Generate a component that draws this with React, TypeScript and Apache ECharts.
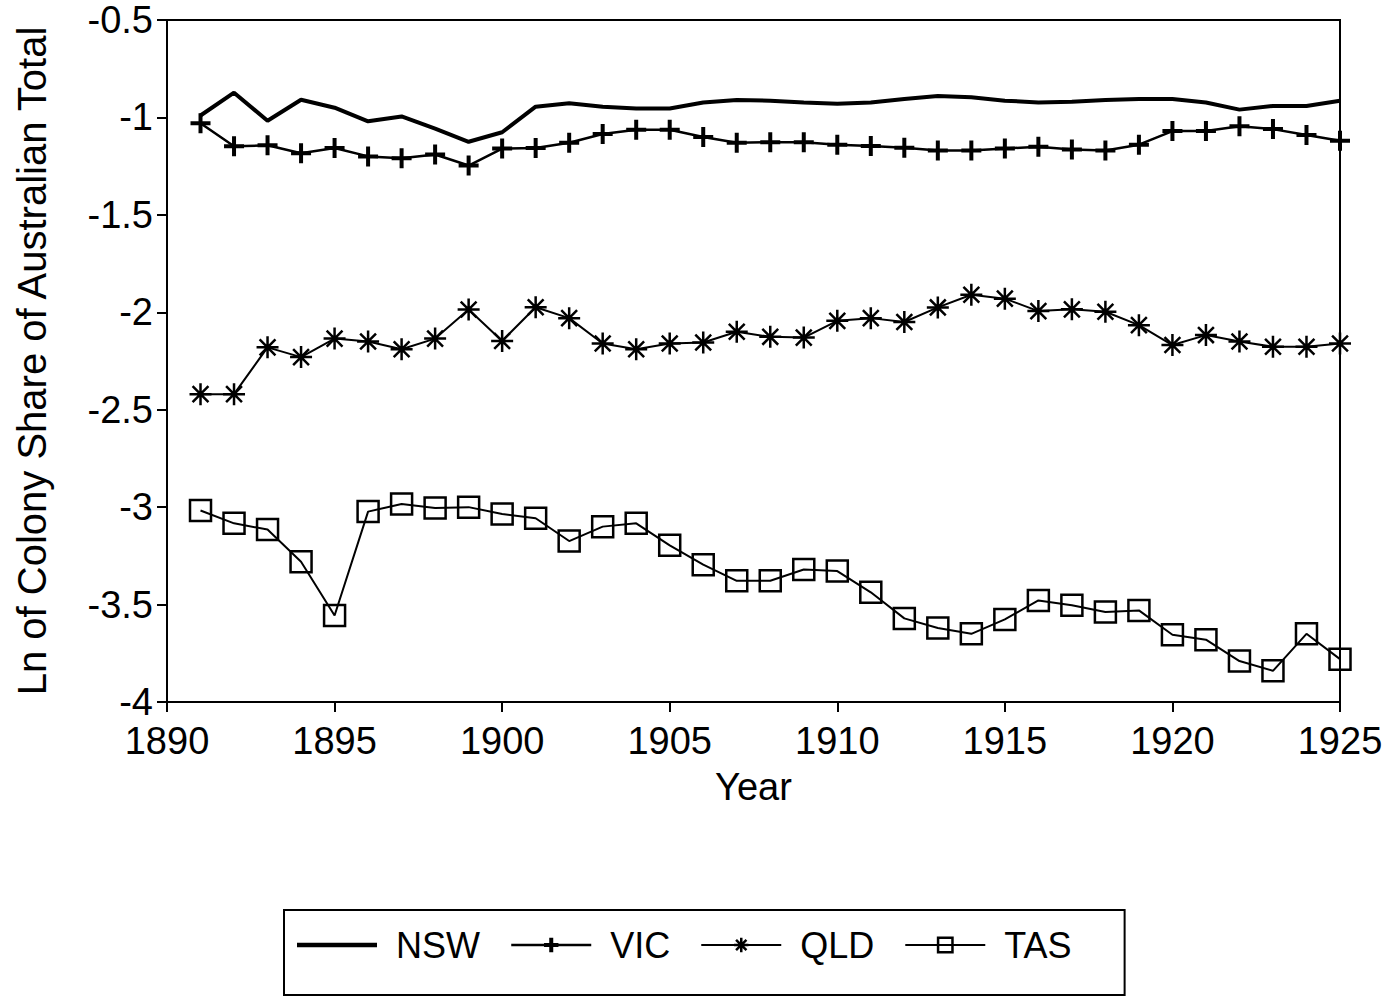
import React, { useEffect, useRef } from "react";
import * as echarts from "echarts";

const years = [
  1891, 1892, 1893, 1894, 1895, 1896, 1897, 1898, 1899, 1900,
  1901, 1902, 1903, 1904, 1905, 1906, 1907, 1908, 1909, 1910,
  1911, 1912, 1913, 1914, 1915, 1916, 1917, 1918, 1919, 1920,
  1921, 1922, 1923, 1924, 1925,
];

const nsw = [
  -0.99, -0.873, -1.017, -0.909, -0.95, -1.02, -0.995, -1.058, -1.125, -1.076,
  -0.945, -0.927, -0.945, -0.954, -0.954, -0.923, -0.91, -0.914, -0.923, -0.93,
  -0.923, -0.905, -0.89, -0.896, -0.914, -0.923, -0.92, -0.91, -0.905, -0.905,
  -0.923, -0.96, -0.941, -0.941, -0.914,
];

const vic = [
  -1.03, -1.148, -1.143, -1.184, -1.157, -1.2, -1.21, -1.19, -1.247, -1.16,
  -1.157, -1.13, -1.085, -1.063, -1.063, -1.1, -1.13, -1.127, -1.127, -1.14,
  -1.147, -1.155, -1.17, -1.17, -1.16, -1.15, -1.165, -1.17, -1.14, -1.07,
  -1.07, -1.045, -1.06, -1.09, -1.12,
];

const qld = [
  -2.42, -2.42, -2.18, -2.23, -2.135, -2.15, -2.19, -2.135, -1.986, -2.147,
  -1.974, -2.03, -2.16, -2.19, -2.16, -2.155, -2.1, -2.126, -2.13, -2.044,
  -2.03, -2.05, -1.975, -1.91, -1.93, -1.994, -1.985, -1.997, -2.066, -2.168,
  -2.117, -2.15, -2.177, -2.177, -2.16,
];

const tas = [
  -3.017, -3.083, -3.115, -3.28, -3.556, -3.023, -2.984, -3.005, -3.0, -3.035,
  -3.057, -3.174, -3.1, -3.083, -3.196, -3.295, -3.378, -3.378, -3.32, -3.328,
  -3.437, -3.571, -3.62, -3.65, -3.576, -3.479, -3.504, -3.538, -3.53, -3.655,
  -3.68, -3.79, -3.84, -3.65, -3.78,
];

const seriesNames = ["NSW", "VIC", "QLD", "TAS"];
const yAxisTitle = "Ln of Colony Share of Australian Total";
const xAxisTitle = "Year";

const FONT = "'Liberation Sans', Arial, Helvetica, sans-serif";

const PLUS = "path://M0,-1 L0,1 M-1,0 L1,0";
const STAR = "path://M0,-1 L0,1 M-1,0 L1,0 M-0.72,-0.72 L0.72,0.72 M-0.72,0.72 L0.72,-0.72";
const THICK_LINE_ICON = "path://M0,0 L80,0 L80,4.5 L0,4.5 Z";

function pairs(vals: number[]) {
  return years.map((y, i) => [y, vals[i]]);
}

export default function App() {
  const ref = useRef<HTMLDivElement>(null);

  useEffect(() => {
    document.body.style.margin = "0";
    if (!ref.current) return;
    const chart = echarts.init(ref.current, null, { renderer: "svg" });
    chart.setOption({
      animation: false,
      backgroundColor: "#fff",
      textStyle: { fontFamily: FONT, color: "#000" },
      grid: {
        left: 167,
        right: 49,
        top: 20,
        bottom: 296,
        show: true,
        borderColor: "#000",
        borderWidth: 2,
      },
      legend: {
        left: 284,
        top: 910,
        orient: "horizontal",
        data: [
          { name: seriesNames[0], icon: THICK_LINE_ICON },
          seriesNames[1],
          seriesNames[2],
          seriesNames[3],
        ],
        borderColor: "#000",
        borderWidth: 2,
        borderRadius: 0,
        padding: [17, 53, 32, 13],
        itemGap: 30,
        itemWidth: 80,
        itemHeight: 18,
        lineStyle: { width: "inherit" },
        itemStyle: { borderWidth: "inherit" },
        textStyle: {
          fontFamily: FONT,
          fontSize: 36,
          color: "#000",
          padding: [0, 0, 0, 14],
        },
      },
      xAxis: {
        type: "value",
        min: 1890,
        max: 1925,
        interval: 5,
        name: xAxisTitle,
        nameLocation: "middle",
        nameGap: 66,
        nameTextStyle: { fontFamily: FONT, fontSize: 38, color: "#000" },
        axisLine: { show: true, onZero: false, lineStyle: { color: "#000", width: 2 } },
        axisTick: { show: true, length: 10, lineStyle: { color: "#000", width: 2 } },
        axisLabel: {
          fontFamily: FONT,
          fontSize: 38,
          color: "#000",
          margin: 20,
          formatter: (v: number) => String(v),
        },
        splitLine: { show: false },
      },
      yAxis: {
        type: "value",
        min: -4,
        max: -0.5,
        interval: 0.5,
        name: yAxisTitle,
        nameLocation: "middle",
        nameGap: 115,
        nameTextStyle: { fontFamily: FONT, fontSize: 40, color: "#000" },
        axisLine: { show: true, onZero: false, lineStyle: { color: "#000", width: 2 } },
        axisTick: { show: true, length: 10, lineStyle: { color: "#000", width: 2 } },
        axisLabel: { fontFamily: FONT, fontSize: 38, color: "#000", margin: 14 },
        splitLine: { show: false },
      },
      series: [
        {
          name: "NSW",
          type: "line",
          data: pairs(nsw),
          symbol: "none",
          lineStyle: { color: "#000", width: 4 },
          itemStyle: { color: "#000" },
        },
        {
          name: "VIC",
          type: "line",
          data: pairs(vic),
          symbol: PLUS,
          symbolSize: 20,
          lineStyle: { color: "#000", width: 2.5 },
          itemStyle: { color: "#000", borderColor: "#000", borderWidth: 4 },
        },
        {
          name: "QLD",
          type: "line",
          data: pairs(qld),
          symbol: STAR,
          symbolSize: 22,
          lineStyle: { color: "#000", width: 2 },
          itemStyle: { color: "#000", borderColor: "#000", borderWidth: 2.5 },
        },
        {
          name: "TAS",
          type: "line",
          data: pairs(tas),
          symbol: "rect",
          symbolSize: 21,
          lineStyle: { color: "#000", width: 2 },
          itemStyle: { color: "rgba(0,0,0,0)", borderColor: "#000", borderWidth: 2.5 },
        },
      ],
    });
    return () => chart.dispose();
  }, []);

  return <div ref={ref} style={{ width: 1389, height: 998 }} />;
}
